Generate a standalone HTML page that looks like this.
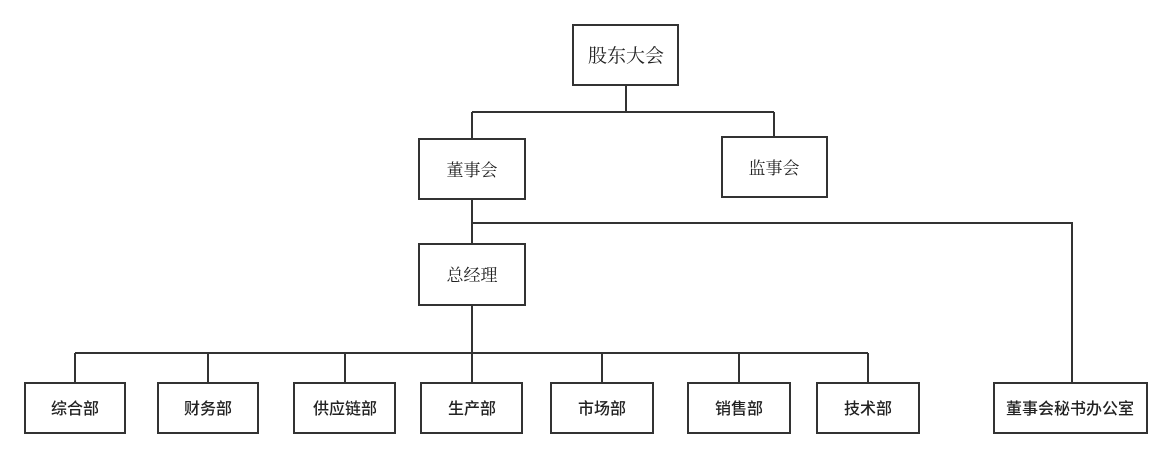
<!DOCTYPE html>
<html><head><meta charset="utf-8"><style>
body{margin:0;background:#fff;width:1170px;height:458px;overflow:hidden}
svg text{font-family:"Noto Serif CJK SC","Liberation Serif",serif;fill:#222}
.b text{font-family:"Liberation Sans","Noto Sans CJK SC",sans-serif;font-weight:500}
</style></head><body>
<svg width="1170" height="458" xmlns="http://www.w3.org/2000/svg">
<g fill="none" stroke="#333" stroke-width="2">
<path d="M626 85V112M472 112H774M472 112V139M774 112V137"/>
<path d="M472 199V244M472 223H1072V382"/>
<path d="M472 305V353M75 353H868M75 353V383M208 353V383M345 353V383M472 353V383M602 353V383M739 353V383M868 353V383"/>
<rect x="573" y="25" width="105" height="60"/>
<rect x="419" y="139" width="106" height="60"/>
<rect x="722" y="137" width="105" height="60"/>
<rect x="419" y="244" width="106" height="61"/>
<rect x="25" y="383" width="100" height="50"/>
<rect x="158" y="383" width="100" height="50"/>
<rect x="294" y="383" width="101" height="50"/>
<rect x="421" y="383" width="101" height="50"/>
<rect x="551" y="383" width="102" height="50"/>
<rect x="688" y="383" width="102" height="50"/>
<rect x="817" y="383" width="102" height="50"/>
<rect x="994" y="383" width="153" height="50"/>
</g>
<g text-anchor="middle">
<text x="626" y="62" font-size="19">股东大会</text>
<text x="472" y="176" font-size="17">董事会</text>
<text x="774" y="174" font-size="17">监事会</text>
<text x="472" y="281" font-size="17">总经理</text>
</g>
<g class="b" text-anchor="middle" font-size="16">
<text x="75" y="414">综合部</text>
<text x="208" y="414">财务部</text>
<text x="345" y="414">供应链部</text>
<text x="472" y="414">生产部</text>
<text x="602" y="414">市场部</text>
<text x="739" y="414">销售部</text>
<text x="868" y="414">技术部</text>
<text x="1070" y="414">董事会秘书办公室</text>
</g>
</svg>
</body></html>
